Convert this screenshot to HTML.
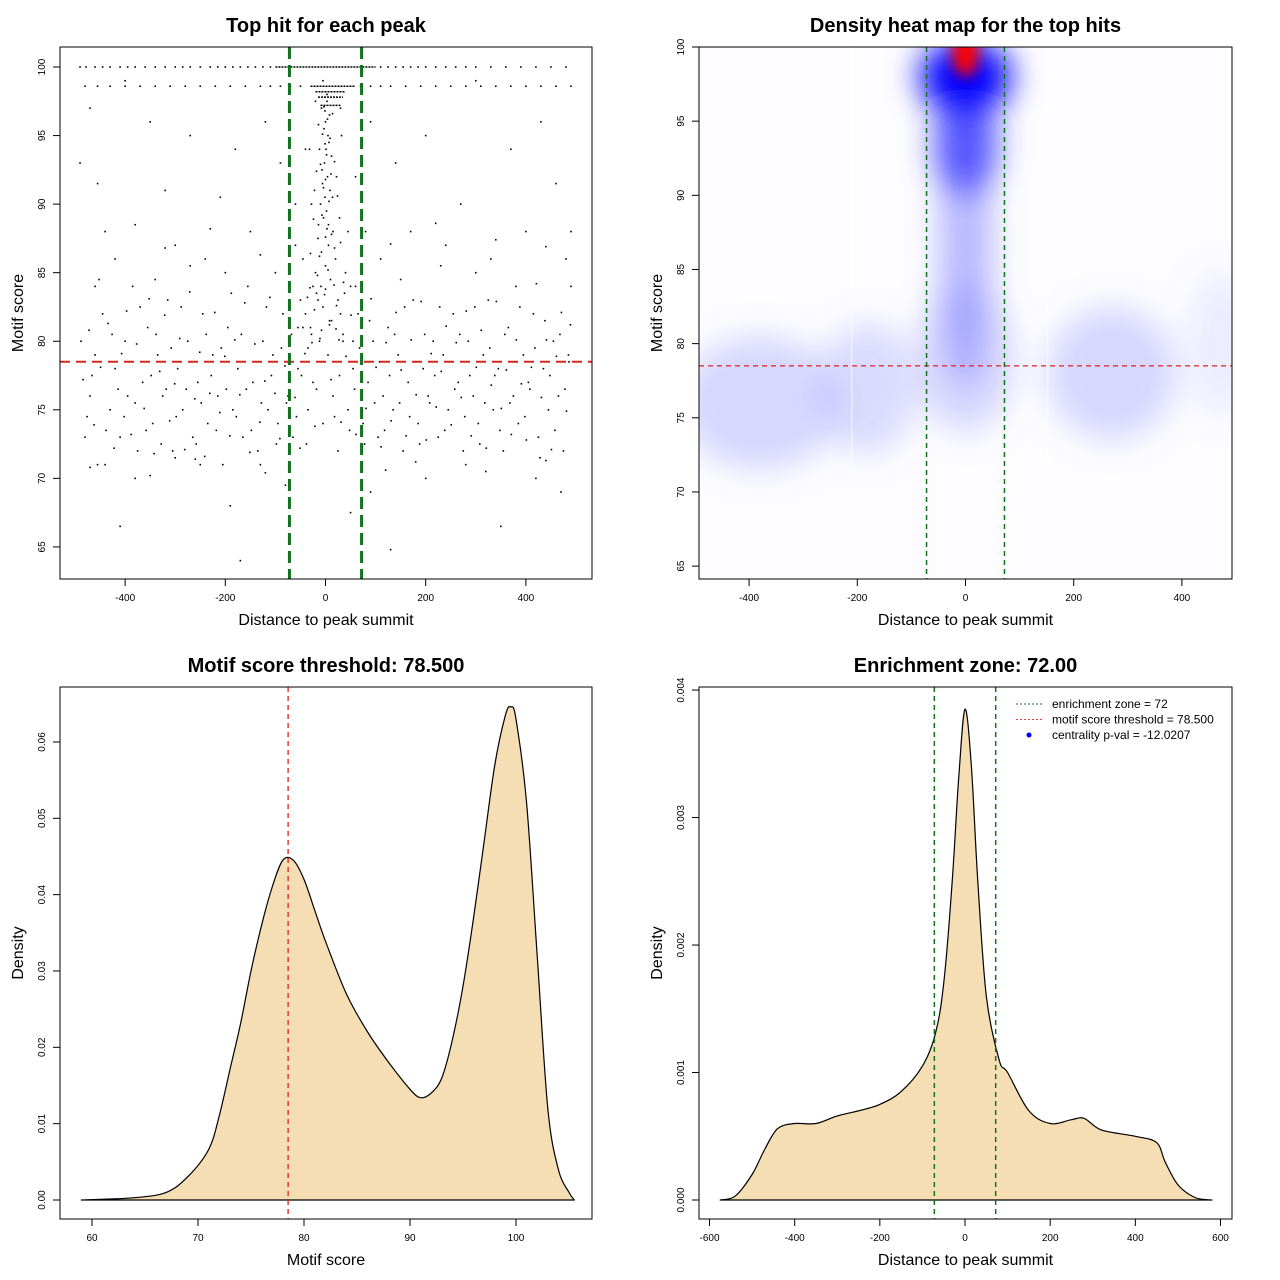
<!DOCTYPE html>
<html><head><meta charset="utf-8"><style>
body{margin:0;background:#fff}
svg{display:block;font-family:"Liberation Sans",sans-serif}
</style></head><body>
<svg id="fig" width="1280" height="1280" viewBox="0 0 1280 1280">
<defs>
<filter id="blurH" x="-50%" y="-50%" width="200%" height="200%"><feGaussianBlur stdDeviation="16"/></filter>
<filter id="blurS" x="-50%" y="-50%" width="200%" height="200%"><feGaussianBlur stdDeviation="7"/></filter>
<clipPath id="clip2"><rect x="699" y="47" width="533" height="532"/></clipPath>
</defs>
</svg>
<script>
// ---------- data ----------
const scatterHits = [[-480,73],[-470,76],[-460,79],[-455,71],[-445,82],[-430,75],[-420,78],[-410,73],[-400,80],[-395,76],[-385,84],[-375,72],[-365,77],[-355,81],[-345,74],[-335,79],[-325,76],[-315,83],[-305,72],[-295,78],[-285,75],[-275,80],[-265,73],[-255,77],[-245,82],[-235,74],[-225,79],[-215,76],[-205,71],[-195,81],[-185,75],[-175,78],[-165,73],[-155,84],[-145,77],[-135,72],[-125,80],[-115,75],[-105,79],[-95,74],[-85,82],[-75,76],[-65,73],[-55,78],[-45,81],[-35,75],[-25,77],[-15,83],[-5,74],[5,79],[15,76],[25,72],[35,80],[45,75],[55,78],[65,82],[75,74],[85,77],[95,80],[105,73],[115,76],[125,81],[135,75],[145,79],[155,72],[165,77],[175,83],[185,74],[195,78],[205,76],[215,80],[225,73],[235,79],[245,75],[255,82],[265,77],[275,72],[285,80],[295,76],[305,74],[315,79],[325,83],[335,75],[345,78],[355,72],[365,81],[375,76],[385,74],[395,79],[405,77],[415,82],[425,73],[435,78],[445,75],[455,80],[465,76],[475,72],[485,79],[490,84],
[-488,80],[-476,74.5],[-466,77.5],[-452,84.5],[-438,73.5],[-426,80.5],[-414,76.5],[-402,74.5],[-392,78.5],[-380,75.5],[-370,82.5],[-358,73.5],[-348,77.5],[-338,80.5],[-328,72.5],[-318,76.5],[-308,79.5],[-298,74.5],[-288,82.5],[-278,76.5],[-268,78.5],[-258,72.5],[-248,75.5],[-238,80.5],[-228,77.5],[-218,73.5],[-208,79.5],[-198,76.5],[-188,83.5],[-178,74.5],[-168,80.5],[-158,76.5],[-148,73.5],[-138,78.5],[-128,75.5],[-118,82.5],[-108,77.5],[-98,72.5],[-88,79.5],[-78,75.5],[-68,80.5],[-58,74.5],[-48,77.5],[-38,72.5],[-28,80.5],[-18,76.5],[-8,78.5],[8,81.5],[18,74.5],[28,77.5],[38,83.5],[48,73.5],[58,76.5],[68,79.5],[78,72.5],[88,81.5],[98,75.5],[108,78.5],[118,73.5],[128,77.5],[138,80.5],[148,75.5],[158,82.5],[168,74.5],[178,78.5],[188,72.5],[198,80.5],[208,75.5],[218,77.5],[228,82.5],[238,73.5],[248,78.5],[258,76.5],[268,80.5],[278,74.5],[288,77.5],[298,82.5],[308,72.5],[318,75.5],[328,79.5],[338,77.5],[348,73.5],[358,80.5],[368,75.5],[378,78.5],[388,82.5],[398,74.5],[408,76.5],[418,79.5],[428,71.5],[438,81.5],[448,77.5],[458,73.5],[468,80.5],[478,76.5],[486,78.5],
[-484,77.2],[-472,80.8],[-462,73.9],[-449,78.1],[-434,81.3],[-422,72.2],[-407,79.1],[-397,82.2],[-388,73.2],[-377,79.8],[-362,75.1],[-352,83.1],[-342,71.8],[-331,77.8],[-321,81.9],[-311,74.2],[-301,76.9],[-291,80.2],[-281,72.1],[-271,83.6],[-261,75.8],[-251,79.2],[-241,71.6],[-231,76.2],[-221,82.1],[-211,74.8],[-201,78.9],[-191,73.1],[-181,80.1],[-171,76.1],[-161,82.8],[-151,71.9],[-141,79.8],[-131,74.1],[-121,77.1],[-111,83.2],[-101,76.2],[-91,72.9],[-81,78.2],[-71,81.1],[-61,75.9],[-51,72.2],[-41,79.1],[-31,83.9],[-21,73.8],[-11,80.2],[11,77.2],[21,80.9],[31,74.1],[41,78.9],[51,81.9],[61,73.2],[71,77.1],[81,75.1],[91,83.1],[101,78.1],[111,72.3],[121,79.9],[131,74.2],[141,82.1],[151,77.9],[161,73.1],[171,80.1],[181,76.1],[191,82.9],[201,72.8],[211,79.1],[221,75.2],[231,77.8],[241,81.1],[251,73.9],[261,79.9],[271,75.9],[281,82.2],[291,73.1],[301,78.1],[311,80.8],[321,72.2],[331,76.8],[341,82.9],[351,75.1],[361,77.9],[371,73.2],[381,80.1],[391,76.9],[401,72.8],[411,78.1],[421,84.2],[431,75.9],[441,80.1],[451,72.1],[461,78.9],[471,82.1],[481,74.9],[489,81.2],
[-490,93],[-470,97],[-455,91.5],[-440,88],[-420,86],[-400,99],[-380,88.5],[-350,96],[-320,91],[-300,87],[-270,95],[-240,86],[-210,90.5],[-180,94],[-150,88],[-120,96],[-100,85],[-440,71],[-410,66.5],[-380,70],[-300,71.5],[-250,71],[-190,68],[-170,64],[-130,71],[-80,69.5],[50,67.5],[90,69],[130,64.8],[200,70],[280,71],[350,66.5],[420,70],[470,69],[480,86],[460,91.5],[430,96],[400,88],[370,94],[330,86],[300,99],[270,90],[240,87],[200,95],[170,88],[140,93],[110,86],[490,88],[-460,84],[380,84],[300,85],[-340,84.5],[-270,85.5],[-200,85],[150,84.5],[230,85.5],[-60,90],[-40,94],[60,92],[80,88],[-20,97.5],[30,97],[90,96],[-90,93],[-470,70.8],[-350,70.2],[-260,71.4],[-120,70.4],[120,70.6],[180,71.2],[320,70.5],[440,71.3],[-320,86.8],[-230,88.2],[-130,86.3],[130,87.1],[220,88.6],[340,87.4],[440,86.9],
[-5,99],[3,98],[-8,97],[8,96.5],[0,96],[-3,95.5],[5,95],[-12,94],[12,93.5],[-2,93],[4,92],[-6,91.5],[9,91],[-10,90],[2,89.5],[-4,89],[15,88],[-15,87.5],[6,87],[-8,86.5],[20,86],[-20,85],[0,85.5],[10,84.5],[-25,84],[25,83],[-5,82.5],[30,82],[-30,81],[12,81.5],[-12,80],[35,80.5],[-35,79.5],[3,97.5],[-1,96.8],[7,94.5],[-7,92.5],[14,90.5],[-14,88.5],[18,86.8],[-18,83.5],[40,85],[-40,82],[45,88],[-45,86],[50,84],[-50,83],[22,92],[-22,91],[28,89],[-28,90],[1,94],[-1,90.5],[6,88.5],[-9,84],[55,80],[-55,81],[60,84],[-60,87],[32,95],[-32,94],
[-3,97.1],[4,96.2],[-6,95.1],[9,94.8],[-1,94.4],[2,93.6],[-10,92.9],[11,92.2],[-4,91.2],[7,90.2],[-7,89.2],[3,88.2],[12,87.8],[-12,86.2],[5,85.2],[-16,84.8],[17,84.1],[-2,83.4],[22,82.6],[-22,82.3],[8,81.2],[-8,80.8],[27,80.1],[-27,79.9],[14,96.6],[-14,95.8],[18,93.1],[-18,92.4],[24,90.6],[-24,88.9],[30,87.2],[-30,86.4],[36,84.3],[-36,83.2],[0,91.8],[0,87.6],[0,83.8]];
const rowScores = [100, 98.6];
const row100X = [-490,-478,-460,-445,-430,-410,-395,-380,-360,-340,-320,-300,-285,-270,-250,-230,-215,-200,-185,-170,-155,-140,-125,-110,110,125,140,155,170,185,200,220,240,260,280,300,330,360,390,420,450,480];
const row986X = [-480,-455,-430,-400,-370,-340,-310,-280,-250,-220,-190,-160,-130,-110,-90,-70,-50,70,90,110,130,160,190,220,250,280,310,340,370,400,430,460,490];
const denseRows = [[100,-100,100],[98.6,-30,60],[98.2,-20,40],[97.8,-15,35],[97.2,-10,30]];
const threshold = 78.5;
const zone = 72;
// heatmap blobs: [x, score, rx, ry, colour, opacity]
const heatBlobs = [[-380,76,150,4.5,'#9090ff',0.35],[-180,77,90,4.5,'#9090ff',0.3],[0,79,90,5,'#9090ff',0.35],[270,78,120,4.5,'#9090ff',0.35],[470,80,60,5,'#9090ff',0.15],[0,87,48,10,'#7070ff',0.5],[0,93.5,60,3.5,'#3030ff',0.75],[0,98,85,2.5,'#0000ff',1],[0,99.6,24,1.6,'#ff0000',1]];
const heatGaps = [-210, 152];
// motif score density
const scoreX = [59,64,67,69,71,72,73,74,75,76,77,78,79,80,81,82,84,86,88,90,91,92,93,94,95,96,97,98,99,99.5,100,101,102,103,104,105,105.5];
const scoreD = [0,0.0003,0.001,0.003,0.0066,0.011,0.017,0.023,0.030,0.036,0.041,0.0445,0.0445,0.042,0.038,0.034,0.027,0.022,0.018,0.0145,0.0134,0.014,0.016,0.021,0.028,0.037,0.047,0.057,0.0635,0.0646,0.063,0.052,0.032,0.012,0.004,0.001,0];
// distance density
const distX = [-575,-540,-500,-470,-440,-400,-350,-300,-250,-200,-150,-100,-70,-50,-30,-15,0,15,30,50,80,100,150,200,250,280,320,400,450,470,500,540,580];
const distD = [0,0.00003,0.0002,0.0004,0.00056,0.0006,0.0006,0.00066,0.0007,0.00075,0.00085,0.00105,0.0013,0.0017,0.0025,0.0033,0.00385,0.0034,0.0025,0.0016,0.0011,0.001,0.0007,0.0006,0.00063,0.00064,0.00055,0.0005,0.00045,0.0003,0.00012,0.00002,0];

// ---------- drawing ----------
const NS='http://www.w3.org/2000/svg';
const svg=document.getElementById('fig');
function el(tag,attrs,parent,text){const e=document.createElementNS(NS,tag);for(const k in attrs)e.setAttribute(k,attrs[k]);if(text!==undefined)e.textContent=text;(parent||svg).appendChild(e);return e;}
function lin(d0,d1,r0,r1){return v=>r0+(v-d0)*(r1-r0)/(d1-d0);}
function smoothPath(P){let d='M'+P[0][0].toFixed(1)+' '+P[0][1].toFixed(1);
  for(let i=0;i<P.length-1;i++){const p0=P[i-1]||P[i],p1=P[i],p2=P[i+1],p3=P[i+2]||P[i+1];
    const c1=[p1[0]+(p2[0]-p0[0])/6,p1[1]+(p2[1]-p0[1])/6],c2=[p2[0]-(p3[0]-p1[0])/6,p2[1]-(p3[1]-p1[1])/6];
    d+=` C${c1[0].toFixed(1)} ${c1[1].toFixed(1)} ${c2[0].toFixed(1)} ${c2[1].toFixed(1)} ${p2[0].toFixed(1)} ${p2[1].toFixed(1)}`;}
  return d;}

function panel(name,box,xd,yd,xt,yt,yfmt,title,xlab,ylab){
  const g=el('g',{});
  
  
  const X=lin(xd[0],xd[1],box[0],box[0]+box[2]), Y=lin(yd[0],yd[1],box[1]+box[3],box[1]);
  const t=el('text',{x:box[0]+box[2]/2,y:box[1]-15,'text-anchor':'middle','font-size':20,'font-weight':'bold'},g,title);
  
  
  const xa=el('g',{},g);
  
  
  const bot=box[1]+box[3];
  el('line',{x1:X(xt[0]),x2:X(xt[xt.length-1]),y1:bot,y2:bot,stroke:'#000'},xa);
  xt.forEach(v=>{el('line',{x1:X(v),x2:X(v),y1:bot,y2:bot+7,stroke:'#000'},xa);
    const l=el('text',{x:X(v),y:bot+22,'text-anchor':'middle','font-size':10},xa,String(v));
    
    });
  const xl=el('text',{x:box[0]+box[2]/2,y:bot+46,'text-anchor':'middle','font-size':16},g,xlab);
  
  
  const ya=el('g',{},g);
  
  
  el('line',{x1:box[0],x2:box[0],y1:Y(yt[0]),y2:Y(yt[yt.length-1]),stroke:'#000'},ya);
  yt.forEach(v=>{el('line',{x1:box[0]-7,x2:box[0],y1:Y(v),y2:Y(v),stroke:'#000'},ya);
    const yy=Y(v),xx=box[0]-15;
    const l=el('text',{x:xx,y:yy,'text-anchor':'middle','font-size':10,transform:`rotate(-90 ${xx} ${yy})`},ya,yfmt(v));
    
    });
  const yx=box[0]-37, yy=box[1]+box[3]/2;
  const yl=el('text',{x:yx,y:yy,'text-anchor':'middle','font-size':16,transform:`rotate(-90 ${yx} ${yy})`},g,ylab);
  
  
  return {g,X,Y,box};
}
function frame(p){const r=el('rect',{x:p.box[0],y:p.box[1],width:p.box[2],height:p.box[3],fill:'none',stroke:'#000'},p.g);
  
  }
function vline(p,v,col,w,dash,name){const l=el('line',{x1:p.X(v),x2:p.X(v),y1:p.box[1],y2:p.box[1]+p.box[3],stroke:col,'stroke-width':w,'stroke-dasharray':dash},p.g);
  
  }
function hline(p,v,col,w,dash,name){const l=el('line',{x1:p.box[0],x2:p.box[0]+p.box[2],y1:p.Y(v),y2:p.Y(v),stroke:col,'stroke-width':w,'stroke-dasharray':dash},p.g);
  
  }
const dtick=[-400,-200,0,200,400], stick=[65,70,75,80,85,90,95,100];

// Panel 1 scatter
const p1=panel('scatter-panel',[60,47,532,532],[-530,532],[62.66,101.46],dtick,stick,v=>String(v),'Top hit for each peak','Distance to peak summit','Motif score');
const pts=el('g',{fill:'#000'},p1.g);


scatterHits.forEach(h=>{const r=el('rect',{x:p1.X(h[0])-0.8,y:p1.Y(h[1])-0.8,width:1.6,height:1.6},pts);
  
  });
[row100X,row986X].forEach((arr,i)=>arr.forEach(x=>{const r=el('rect',{x:p1.X(x)-0.8,y:p1.Y(rowScores[i])-0.8,width:1.6,height:1.6},pts);
  
  }));
denseRows.forEach(d=>{const l=el('line',{x1:p1.X(d[1]),x2:p1.X(d[2]),y1:p1.Y(d[0]),y2:p1.Y(d[0]),stroke:'#000','stroke-width':1.5,'stroke-dasharray':'2 1'},pts);
  
  });
hline(p1,threshold,'#dd2222',2,'10 6','threshold-line');
vline(p1,-zone,'#11721b',3,'12 6','zone-line-left');
vline(p1,zone,'#11721b',3,'12 6','zone-line-right');
frame(p1);

// Panel 2 heatmap
const p2=panel('heatmap-panel',[699,47,533,532],[-492.6,492.6],[64.13,100],dtick,stick,v=>String(v),'Density heat map for the top hits','Distance to peak summit','Motif score');
const hc=el('g',{'clip-path':'url(#clip2)'},p2.g);


el('rect',{x:699,y:47,width:533,height:532,fill:'#fdfdff'},hc);
const hg=el('g',{filter:'url(#blurH)'},hc);
heatBlobs.forEach((b,i)=>{const cx=p2.X(b[0]),cy=p2.Y(b[1]);
  const rx=p2.X(b[0]+b[2])-cx, ry=cy-p2.Y(b[1]+b[3]);
  const e=el('ellipse',{cx,cy,rx,ry,fill:b[4],opacity:b[5]},b[4]==='#ff0000'?el('g',{filter:'url(#blurS)'},hc):hg);
  
  });
heatGaps.forEach(x=>{const l=el('line',{x1:p2.X(x),x2:p2.X(x),y1:47,y2:p2.Y(71),stroke:'#fff','stroke-width':1,opacity:0.8},hc);
  
  });
hline(p2,threshold,'#dd2222',1.3,'5 4','threshold-line');
vline(p2,-zone,'#11721b',1.5,'5 4','zone-line-left');
vline(p2,zone,'#11721b',1.5,'5 4','zone-line-right');
frame(p2);

// Panel 3 score density
const p3=panel('score-density-panel',[60,687,532,532],[56.98,107.17],[-0.00249,0.0672],[60,70,80,90,100],[0,0.01,0.02,0.03,0.04,0.05,0.06],v=>v.toFixed(2),'Motif score threshold: 78.500','Motif score','Density');
let d=smoothPath(scoreX.map((x,i)=>[p3.X(x),p3.Y(scoreD[i])]))+' Z';
const a3=el('path',{d,fill:'#f5deb3',stroke:'#000','stroke-width':1.2,'stroke-linejoin':'round'},p3.g);


vline(p3,threshold,'#dd2222',1.3,'5 4','threshold-line');
frame(p3);

// Panel 4 distance density
const p4=panel('distance-density-panel',[699,687,533,532],[-624.7,627],[-0.000149,0.004024],[-600,-400,-200,0,200,400,600],[0,0.001,0.002,0.003,0.004],v=>v.toFixed(3),'Enrichment zone: 72.00','Distance to peak summit','Density');
d=smoothPath(distX.map((x,i)=>[p4.X(x),p4.Y(distD[i])]))+' Z';
const a4=el('path',{d,fill:'#f5deb3',stroke:'#000','stroke-width':1.2,'stroke-linejoin':'round'},p4.g);


vline(p4,-zone,'#11721b',1.5,'5 4','zone-line-left');
vline(p4,zone,'#11721b',1.5,'5 4','zone-line-right');
frame(p4);
const lg=el('g',{'font-size':12},p4.g);


const items=[['enrichment zone = 72','#11721b','line'],['motif score threshold = 78.500','#ee4040','line'],['centrality p-val = -12.0207','#0000ff','dot']];
items.forEach((it,i)=>{const y=704+i*15.5;
  const e=el('g',{},lg);
  
  
  if(it[2]==='line')el('line',{x1:1016,x2:1042,y1:y,y2:y,stroke:it[1],'stroke-dasharray':'2 2'},e);
  else el('circle',{cx:1029,cy:y,r:2.5,fill:it[1]},e);
  el('text',{x:1052,y:y+4},e,it[0]);});
</script>
</body></html>
